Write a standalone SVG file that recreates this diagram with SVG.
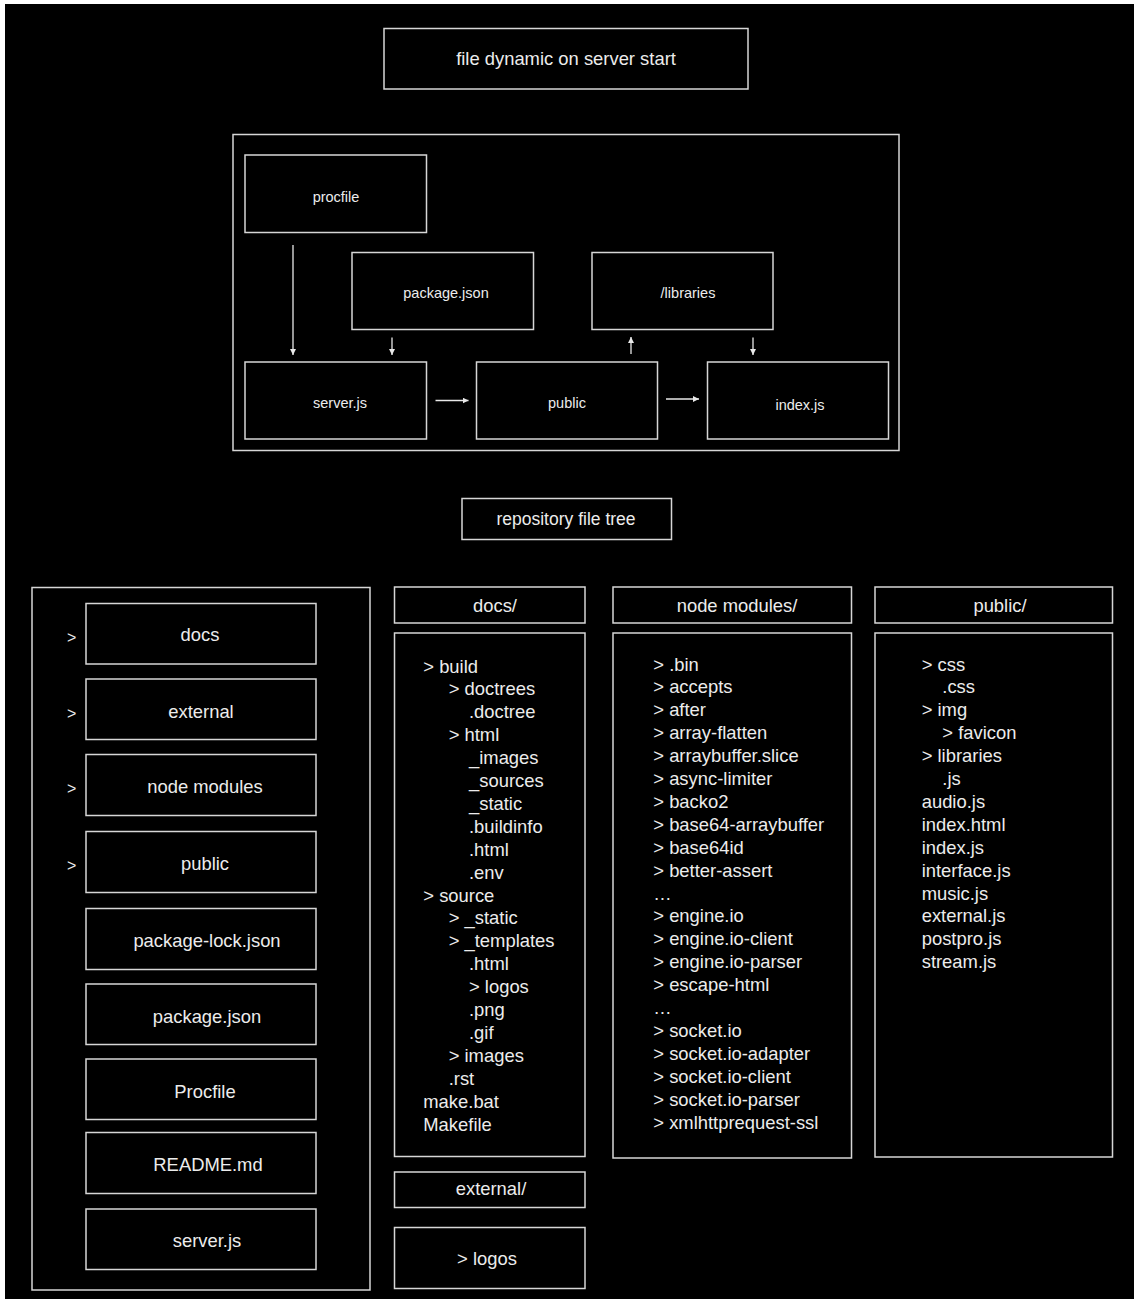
<svg xmlns="http://www.w3.org/2000/svg" width="1134" height="1299" viewBox="0 0 1134 1299">
<style>
.bx{fill:#000;stroke:#d6d6d6;stroke-width:1.5}
.t{font-family:"Liberation Sans",Arial,sans-serif;fill:#ececec}
.c{text-anchor:middle}
.s14{font-size:14.5px}
.s18{font-size:18.4px}
.ln{stroke:#e8e8e8;stroke-width:1.3;fill:none}
</style>
<defs>
<marker id="ah" markerWidth="8" markerHeight="8" refX="6" refY="3" orient="auto" markerUnits="userSpaceOnUse">
<path d="M0,0 L6,3 L0,6 Z" fill="#e8e8e8"/>
</marker>
</defs>
<rect x="0" y="0" width="1134" height="1299" fill="#ffffff"/>
<rect x="5" y="4" width="1129" height="1295" fill="#000000"/>

<g id="title">
<rect class="bx" x="384" y="28.5" width="364" height="60.5"/>
<text class="t c s18" x="566" y="65">file dynamic on server start</text>
</g>

<g id="server-start-frame">
<rect class="bx" x="233" y="134.5" width="666" height="316"/>
</g>
<g id="procfile">
<rect class="bx" x="245" y="155" width="181.5" height="77.5"/>
<text class="t c s14" x="336" y="202">procfile</text>
</g>
<g id="package-json">
<rect class="bx" x="352" y="252.5" width="181.5" height="77"/>
<text class="t c s14" x="446" y="298">package.json</text>
</g>
<g id="libraries">
<rect class="bx" x="592" y="252.5" width="181" height="77"/>
<text class="t c s14" x="688" y="298">/libraries</text>
</g>
<g id="server-js">
<rect class="bx" x="245" y="362" width="181.5" height="77"/>
<text class="t c s14" x="340" y="408">server.js</text>
</g>
<g id="public">
<rect class="bx" x="476.5" y="362" width="181" height="77"/>
<text class="t c s14" x="567" y="408">public</text>
</g>
<g id="index-js">
<rect class="bx" x="707.5" y="362" width="181" height="77"/>
<text class="t c s14" x="800" y="410">index.js</text>
</g>

<g id="connectors">
<line class="ln" x1="293" y1="245" x2="293" y2="355" marker-end="url(#ah)"/>
<line class="ln" x1="392" y1="337.5" x2="392" y2="355" marker-end="url(#ah)"/>
<line class="ln" x1="631" y1="354" x2="631" y2="337" marker-end="url(#ah)"/>
<line class="ln" x1="753" y1="337.5" x2="753" y2="355" marker-end="url(#ah)"/>
<line class="ln" x1="435.5" y1="400.5" x2="468.5" y2="400.5" marker-end="url(#ah)"/>
<line class="ln" x1="666" y1="399" x2="699" y2="399" marker-end="url(#ah)"/>
</g>

<g id="repo-title">
<rect class="bx" x="462" y="498.5" width="209.5" height="41"/>
<text class="t c" style="font-size:17.5px" x="566" y="525">repository file tree</text>
</g>

<g id="root-list">
<rect class="bx" x="32" y="587.5" width="338" height="702.5"/>
<g class="t" style="font-size:16px">
<text x="67" y="643">&gt;</text>
<text x="67" y="719">&gt;</text>
<text x="67" y="794">&gt;</text>
<text x="67" y="871">&gt;</text>
</g>
</g>
<g id="root-docs"><rect class="bx" x="86" y="603.5" width="230" height="60.5"/><text class="t c s18" x="200" y="641">docs</text></g>
<g id="root-external"><rect class="bx" x="86" y="679" width="230" height="60.5"/><text class="t c s18" x="201" y="718">external</text></g>
<g id="root-node-modules"><rect class="bx" x="86" y="754.5" width="230" height="61"/><text class="t c s18" x="205" y="793">node modules</text></g>
<g id="root-public"><rect class="bx" x="86" y="831.5" width="230" height="61"/><text class="t c s18" x="205" y="870">public</text></g>
<g id="root-package-lock"><rect class="bx" x="86" y="908.5" width="230" height="61"/><text class="t c s18" x="207" y="947">package-lock.json</text></g>
<g id="root-package-json"><rect class="bx" x="86" y="984" width="230" height="60.5"/><text class="t c s18" x="207" y="1023">package.json</text></g>
<g id="root-procfile"><rect class="bx" x="86" y="1059" width="230" height="60.5"/><text class="t c s18" x="205" y="1098">Procfile</text></g>
<g id="root-readme"><rect class="bx" x="86" y="1132.5" width="230" height="61"/><text class="t c s18" x="208" y="1171">README.md</text></g>
<g id="root-server-js"><rect class="bx" x="86" y="1209" width="230" height="60.5"/><text class="t c s18" x="207" y="1247">server.js</text></g>

<g id="docs-header">
<rect class="bx" x="394.5" y="587" width="190.5" height="36"/>
<text class="t c s18" x="495" y="612">docs/</text>
</g>
<g id="docs-list">
<rect class="bx" x="394.5" y="633" width="190.5" height="523.5"/>
<g class="t s18">
<text x="423.3" y="672.5">&gt; build</text>
<text x="448.7" y="695.4">&gt; doctrees</text>
<text x="469" y="718.3">.doctree</text>
<text x="448.7" y="741.2">&gt; html</text>
<text x="469" y="764.1">_images</text>
<text x="469" y="787">_sources</text>
<text x="469" y="809.9">_static</text>
<text x="469" y="832.8">.buildinfo</text>
<text x="469" y="855.7">.html</text>
<text x="469" y="878.6">.env</text>
<text x="423.3" y="901.5">&gt; source</text>
<text x="448.7" y="924.4">&gt; _static</text>
<text x="448.7" y="947.3">&gt; _templates</text>
<text x="469" y="970.2">.html</text>
<text x="469" y="993.1">&gt; logos</text>
<text x="469" y="1016">.png</text>
<text x="469" y="1038.9">.gif</text>
<text x="448.7" y="1061.8">&gt; images</text>
<text x="448.7" y="1084.7">.rst</text>
<text x="423.3" y="1107.6">make.bat</text>
<text x="423.3" y="1130.5">Makefile</text>
</g>
</g>
<g id="external-header">
<rect class="bx" x="394.5" y="1172" width="190.5" height="35.5"/>
<text class="t c s18" x="491" y="1195">external/</text>
</g>
<g id="external-list">
<rect class="bx" x="394.5" y="1227.5" width="190.5" height="61"/>
<text class="t c s18" x="487" y="1265">&gt; logos</text>
</g>

<g id="node-modules-header">
<rect class="bx" x="613" y="587" width="238.5" height="36"/>
<text class="t c s18" x="737" y="612">node modules/</text>
</g>
<g id="node-modules-list">
<rect class="bx" x="613" y="633" width="238.5" height="525"/>
<g class="t s18">
<text x="653.3" y="670.5">&gt; .bin</text>
<text x="653.3" y="693.4">&gt; accepts</text>
<text x="653.3" y="716.3">&gt; after</text>
<text x="653.3" y="739.2">&gt; array-flatten</text>
<text x="653.3" y="762.1">&gt; arraybuffer.slice</text>
<text x="653.3" y="785">&gt; async-limiter</text>
<text x="653.3" y="807.9">&gt; backo2</text>
<text x="653.3" y="830.8">&gt; base64-arraybuffer</text>
<text x="653.3" y="853.7">&gt; base64id</text>
<text x="653.3" y="876.6">&gt; better-assert</text>
<text x="653.3" y="899.5">…</text>
<text x="653.3" y="922.4">&gt; engine.io</text>
<text x="653.3" y="945.3">&gt; engine.io-client</text>
<text x="653.3" y="968.2">&gt; engine.io-parser</text>
<text x="653.3" y="991.1">&gt; escape-html</text>
<text x="653.3" y="1014">…</text>
<text x="653.3" y="1036.9">&gt; socket.io</text>
<text x="653.3" y="1059.8">&gt; socket.io-adapter</text>
<text x="653.3" y="1082.7">&gt; socket.io-client</text>
<text x="653.3" y="1105.6">&gt; socket.io-parser</text>
<text x="653.3" y="1128.5">&gt; xmlhttprequest-ssl</text>
</g>
</g>

<g id="public-header">
<rect class="bx" x="875" y="587" width="237.5" height="36"/>
<text class="t c s18" x="1000" y="612">public/</text>
</g>
<g id="public-list">
<rect class="bx" x="875" y="633" width="237.5" height="524"/>
<g class="t s18">
<text x="921.7" y="670.5">&gt; css</text>
<text x="942.3" y="693.4">.css</text>
<text x="921.7" y="716.3">&gt; img</text>
<text x="942.3" y="739.2">&gt; favicon</text>
<text x="921.7" y="762.1">&gt; libraries</text>
<text x="942.3" y="785">.js</text>
<text x="921.7" y="807.9">audio.js</text>
<text x="921.7" y="830.8">index.html</text>
<text x="921.7" y="853.7">index.js</text>
<text x="921.7" y="876.6">interface.js</text>
<text x="921.7" y="899.5">music.js</text>
<text x="921.7" y="922.4">external.js</text>
<text x="921.7" y="945.3">postpro.js</text>
<text x="921.7" y="968.2">stream.js</text>
</g>
</g>
</svg>
